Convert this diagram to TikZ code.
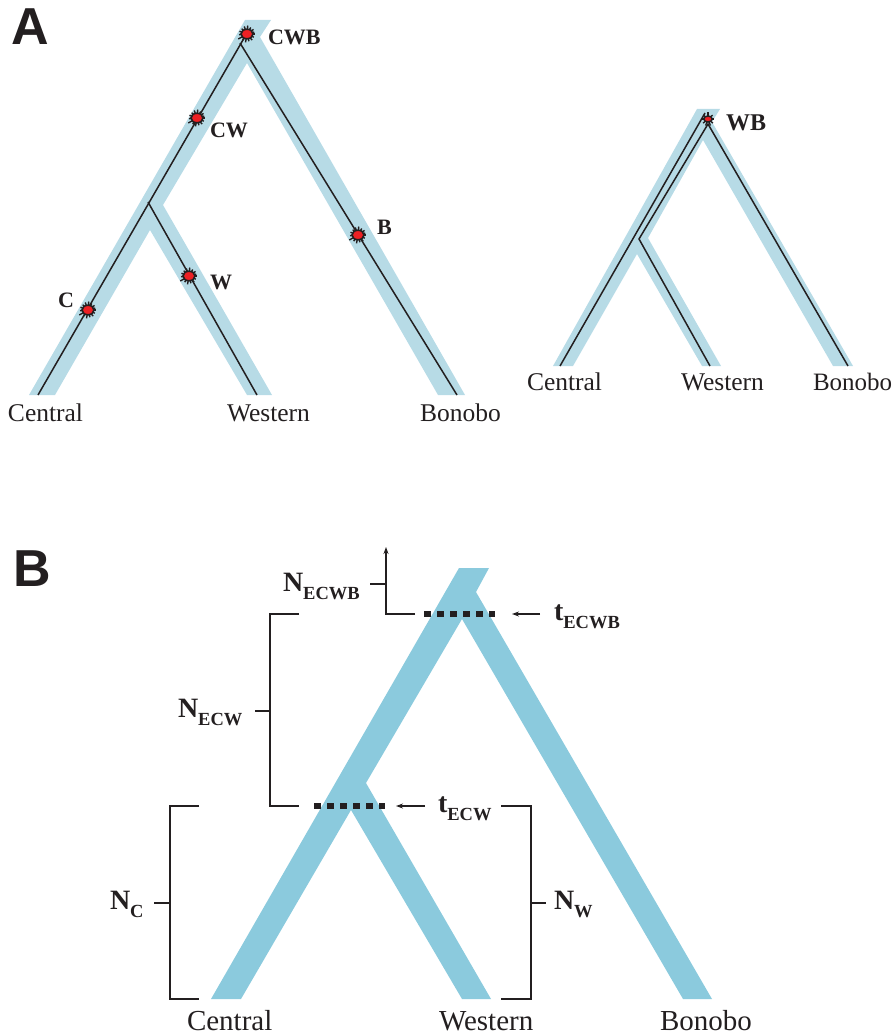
\documentclass[tikz,border=0pt]{standalone}
\usepackage{fontspec}
\setmainfont{Liberation Serif}
\newfontfamily\panelfont{Liberation Sans}
\usetikzlibrary{arrows.meta}
\definecolor{ink}{HTML}{231F20}
\definecolor{palebranch}{HTML}{B7DBE6}
\definecolor{deepbranch}{HTML}{8BCADD}
\definecolor{burst}{HTML}{ED2024}
\tikzset{
  txt/.style={anchor=base west,inner sep=0pt,outer sep=0pt,text=ink},
  panel/.style={txt,font=\panelfont\bfseries\fontsize{52}{52}\selectfont},
  spA/.style={txt,font=\fontsize{25.5}{25.5}\selectfont},
  spAedge/.style={txt,font=\fontsize{25}{25}\selectfont},
  spB/.style={txt,font=\fontsize{29}{29}\selectfont},
  evt/.style={txt,font=\bfseries\fontsize{22}{22}\selectfont},
  evtbig/.style={txt,font=\bfseries\fontsize{24}{24}\selectfont},
  par/.style={txt,font=\bfseries\fontsize{28}{28}\selectfont},
  lineage/.style={draw=ink,line width=1.5pt,line join=miter},
  brack/.style={draw=ink,line width=1.9pt,line join=miter},
  pointer/.style={draw=ink,line width=1.2pt,-{Stealth[length=7pt,width=5pt]}},
  dots/.style={draw=ink,line width=6.5pt,dash pattern=on 6.5pt off 6.5pt},
  mutation/.pic={
    \foreach \a/\r in {0/8,25/7.5,50/8,75/7.5,100/8.5,125/7.5,150/10,175/8,200/8,225/7.5,250/8,275/8.5,300/7.5,325/8,345/7.5}{
      \draw[ink,line width=1.4pt] (0,0) -- (\a:\r);
    }
    \fill[burst,draw=ink,line width=1.6pt] (0,0) ellipse [x radius=6,y radius=4.8];
  },
  mutationsmall/.pic={
    \foreach \a/\r in {0/6,40/6.5,70/7,110/7,140/6.5,180/6,220/6,270/6.5,320/6}{
      \draw[ink,line width=1.3pt] (0,0) -- (\a:\r);
    }
    \fill[burst,draw=ink,line width=1.5pt] (0,0) ellipse [x radius=4.2,y radius=3];
  }
}
\newcommand{\withsub}[2]{#1\raisebox{-8pt}{\fontsize{18.5}{18.5}\selectfont #2}}
\begin{document}
\begin{tikzpicture}[x=1pt,y=-1pt]
\useasboundingbox (0,0) rectangle (893,1035);

% Panel letters
\node[panel] (pa) at (12,45) {A};
\node[panel] (pb) at (13,586) {B};

% Panel A, left tree
\fill[palebranch] (245,20) -- (271,20) -- (260,37) -- (465,395) -- (438,395) -- (247,63)
  -- (163,205) -- (272,395) -- (247,395) -- (150,230) -- (55,395) -- (29,395) -- cycle;
\draw[lineage] (247,33) -- (38,395);
\draw[lineage] (240,43) -- (457,395);
\draw[lineage] (148,202) -- (257,395);
\pic at (247,34) {mutation};
\pic at (197,118) {mutation};
\pic at (358,235) {mutation};
\pic at (189,276) {mutation};
\pic at (88,310) {mutation};
\node[evt] (lcwb) at (268,45) {CWB};
\node[evt] (lcw) at (210,138) {CW};
\node[evt] (lb) at (377,234) {B};
\node[evt] (lw) at (210,289) {W};
\node[evt] (lc) at (58,307) {C};
\node[spA] (ca) at (8,421) {Central};
\node[spA] (wa) at (227,421) {Western};
\node[spA] (ba) at (420,421) {Bonobo};

% Panel A, right tree
\fill[palebranch] (697,109) -- (720,109) -- (712,122) -- (853,366) -- (833,366) -- (703,140)
  -- (648,238) -- (721,366) -- (702,366) -- (637,254) -- (573,366) -- (553,366) -- cycle;
\draw[lineage] (705,113) -- (560,366);
\draw[lineage] (710,366) -- (639,239) -- (708,124) -- (848,366);
\pic at (708,119) {mutationsmall};
\node[evtbig] (lwb) at (726,131) {WB};
\node[spA] (cb) at (527,390) {Central};
\node[spA] (wb) at (681,390) {Western};
\node[spAedge] (bb) at (813,390) {Bonobo};

% Panel B tree
\fill[deepbranch] (459,568) -- (489,568) -- (476,592) -- (712,999) -- (683,999) -- (462,619)
  -- (366,783) -- (491,999) -- (462,999) -- (351,810) -- (241,999) -- (211,999) -- cycle;
\draw[dots] (424,614) -- (495,614);
\draw[dots] (314,806) -- (385,806);
\coordinate (ta) at (540,614); \coordinate (tb) at (512,614);
\coordinate (tc) at (425,806); \coordinate (td) at (396,806);
\draw[pointer] (ta) -- (tb);
\draw[pointer] (tc) -- (td);

% Brackets
\draw[brack] (199,806) -- (170,806) -- (170,999) -- (199,999);
\draw[brack] (154,903) -- (170,903);
\draw[brack] (501,806) -- (531,806) -- (531,999) -- (501,999);
\draw[brack] (531,903) -- (546,903);
\draw[brack] (299,614) -- (270,614) -- (270,806) -- (299,806);
\draw[brack] (255,711) -- (270,711);
\draw[brack,-{Stealth[length=7pt,width=5pt]}] (415,614) -- (386,614) -- (386,547);
\draw[brack] (370,584) -- (386,584);

% Panel B labels
\node[par] (necwb) at (283,591) {\withsub{N}{ECWB}};
\node[par] (tecwb) at (554,620) {\withsub{t}{ECWB}};
\node[par] (necw) at (178,717) {\withsub{N}{ECW}};
\node[par] (tecw) at (438,812) {\withsub{t}{ECW}};
\node[par] (nc) at (110,909) {\withsub{N}{C}};
\node[par] (nw) at (554,909) {\withsub{N}{W}};
\node[spB] (cc) at (187,1030) {Central};
\node[spB] (wc) at (439,1030) {Western};
\node[spB] (bc) at (660,1030) {Bonobo};
\end{tikzpicture}
\end{document}
